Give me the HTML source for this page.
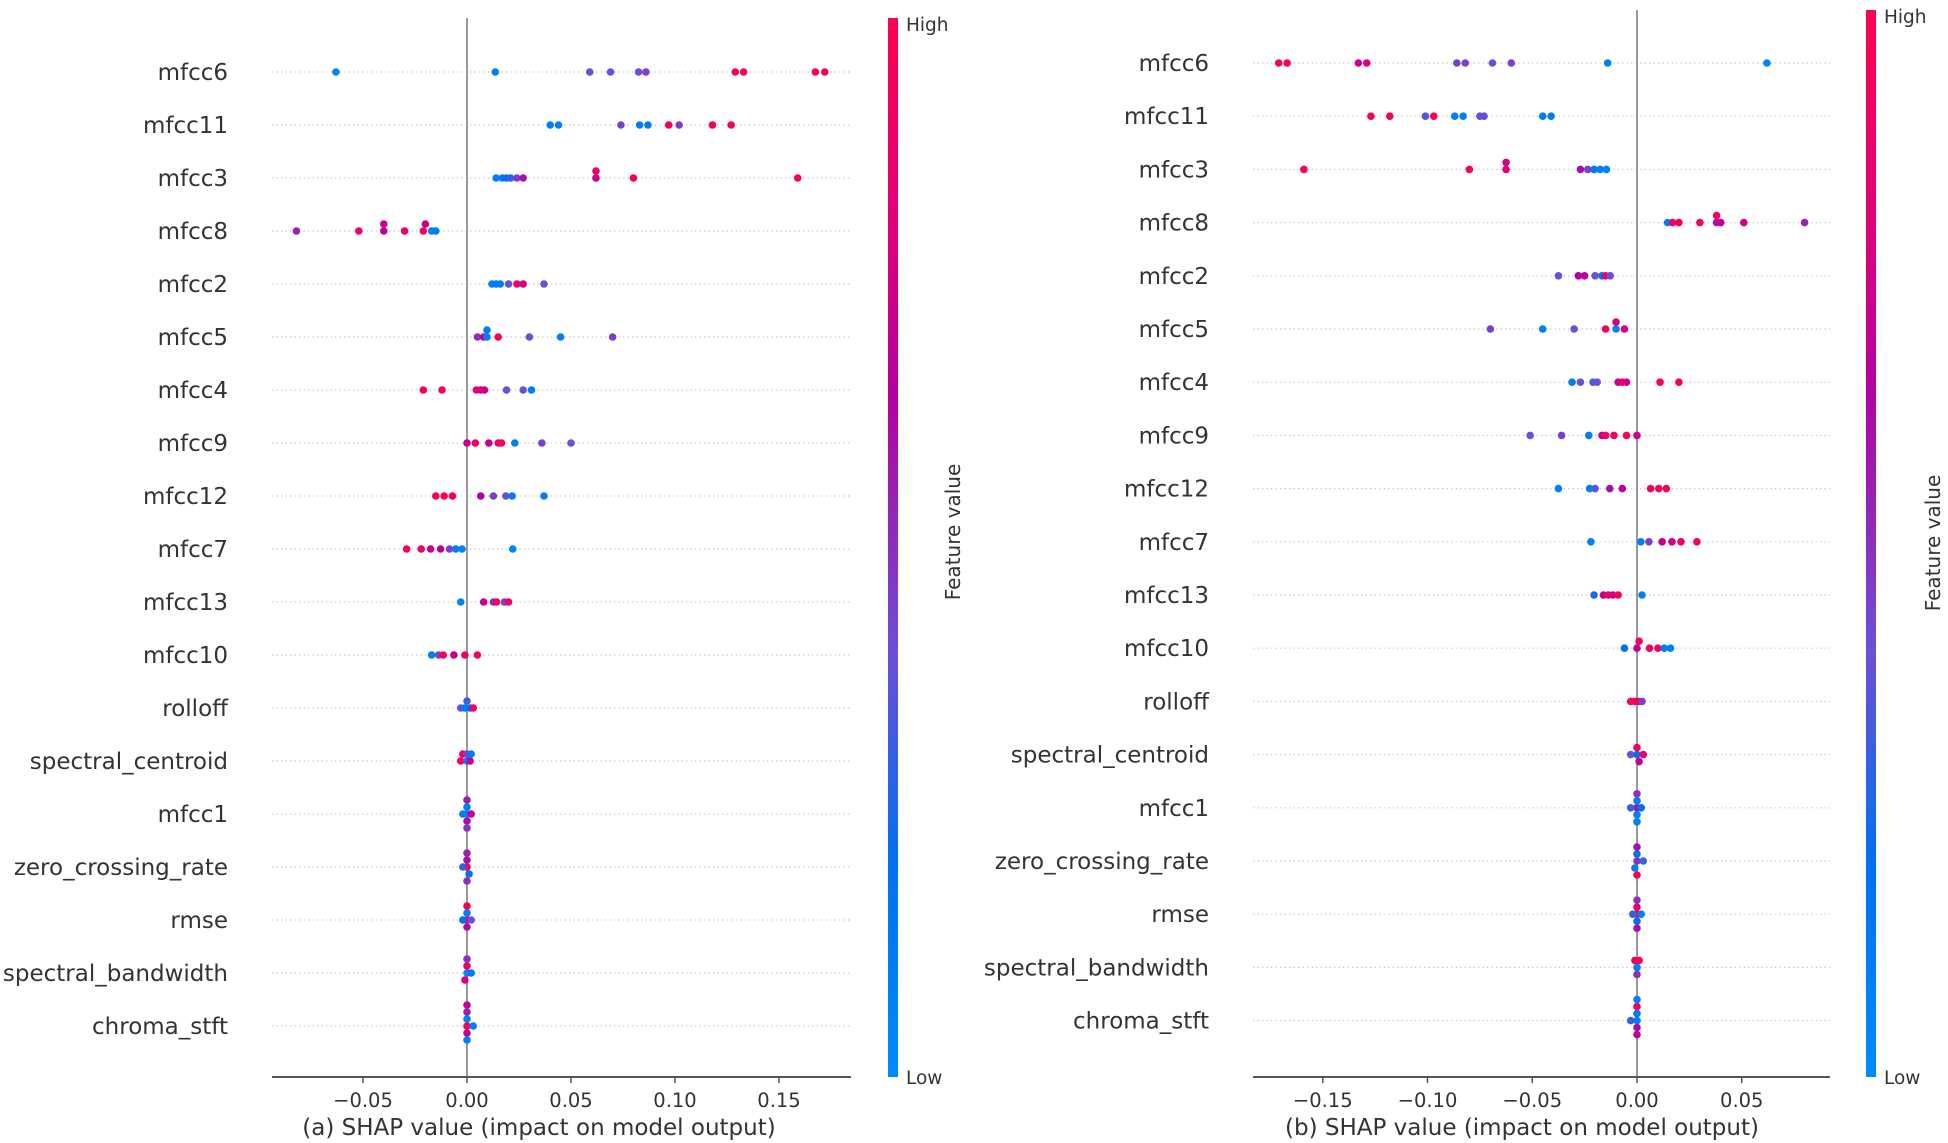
<!DOCTYPE html>
<html><head><meta charset="utf-8">
<style>
html,body{margin:0;padding:0;background:#fff;}
svg{display:block;font-family:"DejaVu Sans","Liberation Sans",sans-serif;}
</style></head>
<body>
<svg id="chart" width="1948" height="1143" viewBox="0 0 1948 1143" xmlns="http://www.w3.org/2000/svg">
<defs>
<linearGradient id="cb" x1="0" y1="1" x2="0" y2="0">
<stop offset="0" stop-color="#008bfb"/>
<stop offset="0.2" stop-color="#0070f0"/>
<stop offset="0.4" stop-color="#6a50d8"/>
<stop offset="0.55" stop-color="#9a20b0"/>
<stop offset="0.65" stop-color="#b400a0"/>
<stop offset="0.8" stop-color="#e0007a"/>
<stop offset="1" stop-color="#ff0050"/>
</linearGradient>
</defs>
</svg>
<script>
// Features (top to bottom), shared by both panels
const featuresA = ["mfcc6","mfcc11","mfcc3","mfcc8","mfcc2","mfcc5","mfcc4","mfcc9","mfcc12","mfcc7","mfcc13","mfcc10","rolloff","spectral_centroid","mfcc1","zero_crossing_rate","rmse","spectral_bandwidth","chroma_stft"];
const featuresB = featuresA.slice();
const ticksA = [-0.05,0,0.05,0.10,0.15];
const tickLabelsA = ["\u22120.05","0.00","0.05","0.10","0.15"];
const ticksB = [-0.15,-0.10,-0.05,0,0.05];
const tickLabelsB = ["\u22120.15","\u22120.10","\u22120.05","0.00","0.05"];

// SHAP values per feature (panel a)
const shapA = [
 [-0.063,0.0136,0.059,0.069,0.0825,0.086,0.129,0.133,0.1675,0.172],
 [0.040,0.044,0.074,0.083,0.087,0.097,0.102,0.118,0.127],
 [0.014,0.017,0.019,0.021,0.024,0.027,0.062,0.062,0.080,0.159],
 [-0.082,-0.052,-0.040,-0.040,-0.030,-0.021,-0.020,-0.017,-0.015],
 [0.012,0.014,0.016,0.020,0.024,0.027,0.037],
 [0.005,0.008,0.0096,0.0096,0.015,0.030,0.045,0.070],
 [-0.021,-0.012,0.0045,0.0066,0.0084,0.019,0.027,0.031],
 [0,0.004,0.0105,0.015,0.0166,0.023,0.036,0.050],
 [-0.015,-0.011,-0.007,0.0066,0.0127,0.0187,0.0217,0.037],
 [-0.029,-0.022,-0.0175,-0.0127,-0.0084,-0.0054,-0.0024,0.022],
 [-0.003,0.008,0.0127,0.0142,0.018,0.020],
 [-0.017,-0.0136,-0.0114,-0.0063,-0.001,0.005],
 [-0.003,-0.001,0,0.0015,0.003],
 [-0.003,-0.002,0,0,0.0015,0.002],
 [0,0,-0.002,0,0.002,0,0],
 [0,-0.002,0,0.001,0,0],
 [0,0,-0.002,0,0.002,0],
 [0,0,-0.001,0.002,0],
 [0,0,0,0.003,0,0,0]
];
// Feature values (0 = low/blue, 1 = high/red), panel a
const featA = [
 [0.05,0.08,0.4,0.4,0.42,0.45,0.9,0.95,0.92,0.95],
 [0.08,0.08,0.45,0.1,0.1,0.95,0.45,0.95,0.95],
 [0.1,0.15,0.2,0.3,0.45,0.6,0.75,0.9,0.95,0.95],
 [0.55,0.9,0.7,0.75,0.9,0.9,0.7,0.1,0.1],
 [0.1,0.15,0.1,0.4,0.9,0.75,0.4],
 [0.5,0.7,0.1,0.1,0.95,0.4,0.1,0.45],
 [0.95,0.95,0.9,0.75,0.75,0.4,0.4,0.1],
 [0.7,0.9,0.7,0.9,0.95,0.1,0.45,0.4],
 [0.95,0.95,0.95,0.65,0.45,0.4,0.1,0.1],
 [0.95,0.9,0.7,0.7,0.45,0.1,0.05,0.05],
 [0.05,0.7,0.5,0.9,0.45,0.9],
 [0.1,0.45,0.95,0.7,0.9,0.95],
 [0.4,0.1,0.3,0.2,0.95],
 [0.95,0.9,0.1,0.45,0.7,0.1],
 [0.05,0.1,0.1,0.6,0.7,0.55,0.5],
 [0.95,0.3,0.6,0.2,0.55,0.5],
 [0.95,0.1,0.2,0.6,0.4,0.95],
 [0.05,0.9,0.8,0.15,0.5],
 [0.95,0.1,0.7,0.1,0.55,0.1,0.7]
];
// Panel b
const shapB = [
 [-0.171,-0.167,-0.133,-0.129,-0.086,-0.082,-0.069,-0.060,-0.014,0.062],
 [-0.127,-0.118,-0.101,-0.097,-0.087,-0.083,-0.075,-0.073,-0.045,-0.041],
 [-0.159,-0.080,-0.0625,-0.0625,-0.027,-0.0235,-0.0205,-0.0176,-0.0146],
 [0.0146,0.017,0.020,0.030,0.038,0.038,0.040,0.051,0.080],
 [-0.0375,-0.028,-0.025,-0.020,-0.0167,-0.015,-0.0128],
 [-0.070,-0.045,-0.030,-0.015,-0.010,-0.010,-0.006],
 [-0.031,-0.027,-0.021,-0.019,-0.009,-0.007,-0.005,0.011,0.020],
 [-0.051,-0.036,-0.023,-0.0167,-0.015,-0.011,-0.005,0],
 [-0.0375,-0.0226,-0.020,-0.013,-0.007,0.0065,0.0104,0.014],
 [-0.022,0.0018,0.0057,0.012,0.0167,0.021,0.0286],
 [-0.0205,-0.016,-0.0137,-0.0116,-0.009,0.0024],
 [-0.006,0,0.001,0.006,0.010,0.013,0.016],
 [-0.003,-0.001,0.0006,0.0024],
 [-0.003,0,0,0.001,0.003],
 [0,0,-0.003,0,0.002,0,0],
 [0,0,-0.001,0.003,0,0],
 [0,0,0,-0.002,0.002,0,0],
 [0,-0.001,0.001,0],
 [0,0,-0.003,0,0,0,0]
];
const featB = [
 [0.95,0.95,0.75,0.8,0.45,0.45,0.4,0.45,0.08,0.05],
 [0.95,0.95,0.35,0.95,0.1,0.1,0.4,0.4,0.1,0.1],
 [0.95,0.95,0.8,0.75,0.6,0.45,0.15,0.1,0.08],
 [0.1,0.95,0.95,0.95,0.6,0.95,0.7,0.75,0.55],
 [0.4,0.65,0.7,0.4,0.15,0.9,0.4],
 [0.45,0.1,0.4,0.95,0.1,0.75,0.75],
 [0.1,0.4,0.35,0.4,0.7,0.9,0.75,0.95,0.95],
 [0.4,0.45,0.1,0.7,0.95,0.9,0.95,0.75],
 [0.08,0.1,0.35,0.6,0.65,0.95,0.95,0.95],
 [0.08,0.1,0.45,0.7,0.75,0.9,0.95],
 [0.25,0.7,0.9,0.7,0.95,0.08],
 [0.2,0.7,0.95,0.95,0.95,0.1,0.1],
 [0.95,0.95,0.9,0.45],
 [0.4,0.2,0.95,0.7,0.85],
 [0.6,0.1,0.3,0.1,0.2,0.5,0.1],
 [0.5,0.2,0.1,0.3,0.6,0.95],
 [0.95,0.9,0.2,0.3,0.1,0.5,0.6],
 [0.1,0.9,0.95,0.5],
 [0.1,0.15,0.3,0.6,0.9,0.7,0.1]
];

const NS = "http://www.w3.org/2000/svg";
const svg = document.getElementById("chart");
function mk(tag, attrs, parent){
  const e = document.createElementNS(NS, tag);
  for (const k in attrs) e.setAttribute(k, attrs[k]);
  (parent||svg).appendChild(e);
  return e;
}
const stops = [[0,[0,139,251]],[0.2,[0,112,240]],[0.4,[106,80,216]],[0.55,[154,32,176]],[0.65,[180,0,160]],[0.8,[224,0,122]],[1,[255,0,80]]];
function colorOf(f){
  for (let i=1;i<stops.length;i++){
    if (f<=stops[i][0]){
      const a=stops[i-1], b=stops[i], t=(f-a[0])/(b[0]-a[0]);
      const c=a[1].map((v,j)=>Math.round(v+(b[1][j]-v)*t));
      return "rgb("+c.join(",")+")";
    }
  }
  return "rgb(255,0,80)";
}

function panel(cfg){
  const g = mk("g", {});
  
  
  const xs = v => cfg.zeroX + v * cfg.pxPerUnit;
  const ys = i => cfg.y0 + i * cfg.rowStep;
  cfg.features.forEach((f,i)=>{
    const ln = mk("line",{x1:cfg.axL,x2:cfg.axR,y1:ys(i),y2:ys(i),stroke:"#ccc","stroke-width":1.2,"stroke-dasharray":"1.5 3"},g);
    
    
    const t = mk("text",{x:cfg.labelX,y:ys(i)+8,"text-anchor":"end","font-size":23,fill:"#333"},g);
    t.textContent = f;
    
    
  });
  const zl = mk("line",{x1:xs(0),x2:xs(0),y1:cfg.zeroTop,y2:cfg.axY,stroke:"#999","stroke-width":2},g);
  
  
  const ax = mk("line",{x1:cfg.axL,x2:cfg.axR,y1:cfg.axY,y2:cfg.axY,stroke:"#555","stroke-width":2},g);
  
  
  cfg.ticks.forEach((v,i)=>{
    const tk = mk("line",{x1:xs(v),x2:xs(v),y1:cfg.axY,y2:cfg.axY+6,stroke:"#555","stroke-width":1.5},g);
    
    
    const tl = mk("text",{x:xs(v),y:cfg.axY+30,"text-anchor":"middle","font-size":19.5,fill:"#333"},g);
    tl.textContent = cfg.tickLabels[i];
    
    
  });
  const tt = mk("text",{x:cfg.titleX,y:cfg.axY+58,"text-anchor":"middle","font-size":23,fill:"#333"},g);
  tt.textContent = cfg.title;
  
  
  cfg.shap.forEach((row,i)=>{
    const placed = [];
    row.forEach((v,j)=>{
      const px = xs(v);
      let lvl = 0;
      const order=[0,-1,1,-2,2,-3,3,-4,4];
      for (const k of order){
        if (!placed.some(p=>p.k===k && Math.abs(p.x-px)<3)){ lvl=k; break; }
      }
      placed.push({x:px,k:lvl});
      const c = mk("ellipse",{cx:px,cy:ys(i)+lvl*7,rx:3.8,ry:3.8,fill:colorOf(cfg.feat[i][j])},g);
      
      
    });
  });
  const cb = mk("rect",{x:cfg.cbX,y:cfg.cbTop,width:cfg.cbW,height:cfg.axY-cfg.cbTop,fill:"url(#cb)"},g);
  
  
  const hi = mk("text",{x:cfg.cbX+cfg.cbW+8,y:cfg.cbTop+13,"font-size":18.5,fill:"#333"},g);
  hi.textContent = "High";
  
  
  const lo = mk("text",{x:cfg.cbX+cfg.cbW+8,y:cfg.axY+7,"font-size":18.5,fill:"#333"},g);
  lo.textContent = "Low";
  
  
  const fv = mk("text",{x:cfg.fvX,y:cfg.fvY,"text-anchor":"middle","font-size":20,fill:"#333",transform:"rotate(-90 "+cfg.fvX+" "+cfg.fvY+")"},g);
  fv.textContent = "Feature value";
  
  
}

panel({name:"panel-a",features:featuresA,shap:shapA,feat:featA,ticks:ticksA,tickLabels:tickLabelsA,
  zeroX:467,pxPerUnit:2080,y0:72,rowStep:53,labelX:228,axL:272,axR:851,axY:1077,zeroTop:18,
  title:"(a) SHAP value (impact on model output)",titleX:539,cbX:888,cbW:10,cbTop:18,fvX:960,fvY:532});
panel({name:"panel-b",features:featuresB,shap:shapB,feat:featB,ticks:ticksB,tickLabels:tickLabelsB,
  zeroX:1637,pxPerUnit:2095,y0:63,rowStep:53.2,labelX:1209,axL:1253,axR:1830,axY:1077,zeroTop:10,
  title:"(b) SHAP value (impact on model output)",titleX:1522,cbX:1866,cbW:10,cbTop:10,fvX:1940,fvY:543});
</script>
</body></html>
